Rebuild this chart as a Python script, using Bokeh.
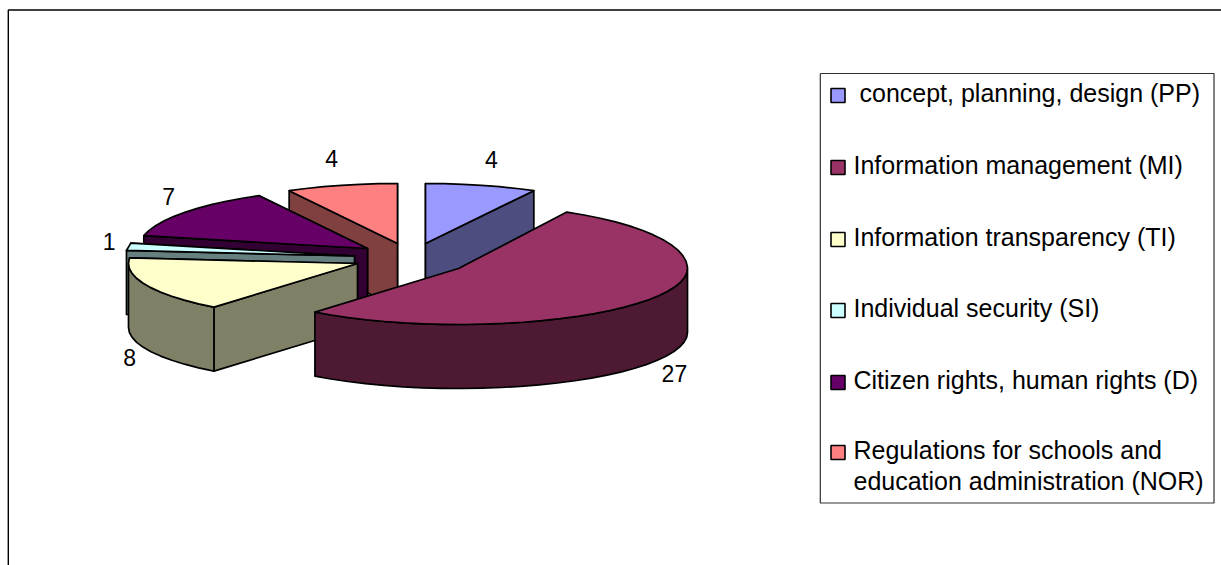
import math
from bokeh.plotting import figure
from bokeh.models import Range1d
from bokeh.core.properties import value
from bokeh.embed import file_html
from bokeh.resources import INLINE

# ---- data ----
categories = [" concept, planning, design (PP)", "Information management (MI)",
              "Information transparency (TI)", "Individual security (SI)",
              "Citizen rights, human rights (D)",
              "Regulations for schools and\neducation administration (NOR)"]
values = [4, 27, 8, 1, 7, 4]
top_colors = ["#9999FF", "#993366", "#FFFFCC", "#CCFFFF", "#660066", "#FF8080"]
wall_colors = ["#4D4D80", "#4D1933", "#808066", "#668080", "#330033", "#804040"]

# ---- layout of the exploded 3-D pie (screen pixels) ----
apex = [(425, 243), (458, 268), (357, 263), (354, 255.5), (367, 248), (397, 243)]
back_radius = [60, 64, 60, 60, 60, 60]
label_nudge = [(10, -26), (25, 74), (-17, 72), (-19, -5), (-16, -16), (-10, -27)]
RX, RY_FRONT, DEPTH = 229, 56, 64
LEGEND_ROWS = [92, 164, 236, 307, 379, 449]
FONT = value("Liberation Sans")

p = figure(width=1221, height=565, output_backend="svg", toolbar_location=None,
           x_range=Range1d(0, 1221), y_range=Range1d(565, 0),
           min_border=0, outline_line_color=None)
p.axis.visible = False
p.grid.visible = False
p.background_fill_color = "white"
p.border_fill_color = "white"

# outer frame (open on right and bottom, as cut by the window)
p.line([7.8, 7.8, 1221], [565, 9.5, 9.5], line_color="black", line_width=1.4)


def rim(i, deg, c=None):
    c = apex[i]
    t = math.radians(deg)
    ry = back_radius[i] if math.cos(t) > 0 else RY_FRONT
    return c[0] + RX * math.sin(t), c[1] - ry * math.cos(t)


def arc(i, a0, a1, step=5.0):
    n = max(1, int(round(abs(a1 - a0) / step)))
    return [rim(i, a0 + (a1 - a0) * k / n) for k in range(n + 1)]


def face(pts, color):
    p.patch([q[0] for q in pts], [q[1] for q in pts], fill_color=color,
            line_color="black", line_width=1.7, line_join="round")


total = sum(values)
starts, ends = [], []
acc = 0
for v in values:
    starts.append(acc / total * 360)
    acc += v
    ends.append(acc / total * 360)


def wall(i, deg):
    c = apex[i]
    q = rim(i, deg)
    face([c, q, (q[0], q[1] + DEPTH), (c[0], c[1] + DEPTH)], wall_colors[i])


def draw_slice(i):
    a0, a1 = starts[i], ends[i]
    if a1 <= 180 and a0 < 90:           # right-hand back slice: end wall shows
        wall(i, a0)
        wall(i, a1)
    elif a0 > 180:                      # left-hand slices: start wall shows
        wall(i, a1)
        wall(i, a0)
    lo, hi = max(a0, 90), min(a1, 270)
    if lo < hi:
        pts = arc(i, lo, hi)
        face(pts + [(x, y + DEPTH) for x, y in reversed(pts)], wall_colors[i])
    face([apex[i]] + arc(i, a0, a1), top_colors[i])


for i in [0, 5, 4, 3, 2, 1]:
    draw_slice(i)

# data labels
for i, v in enumerate(values):
    x, y = rim(i, (starts[i] + ends[i]) / 2)
    p.text([x + label_nudge[i][0]], [y + label_nudge[i][1]], text=[str(v)],
           text_font=FONT, text_font_size="23px", text_color="black",
           text_align="center", text_baseline="middle")

# legend
p.line([819.8, 819.8, 1213.5, 1213.5, 819.8], [73, 502.5, 502.5, 73, 73],
       line_color="#303030", line_width=1.2)
for i, label in enumerate(categories):
    row = LEGEND_ROWS[i]
    p.scatter([837.5], [row + 3], marker="square", size=14, fill_color=top_colors[i],
              line_color="black", line_width=1.6)
    for k, line in enumerate(label.split("\n")):
        leading = len(line) - len(line.lstrip())
        p.text([853 + 6 * leading], [row + k * 31], text=[line.strip()],
               text_font=FONT, text_font_size="25px", text_color="black",
               text_align="left", text_baseline="middle")

open("out.html", "w").write(file_html(p, INLINE))
